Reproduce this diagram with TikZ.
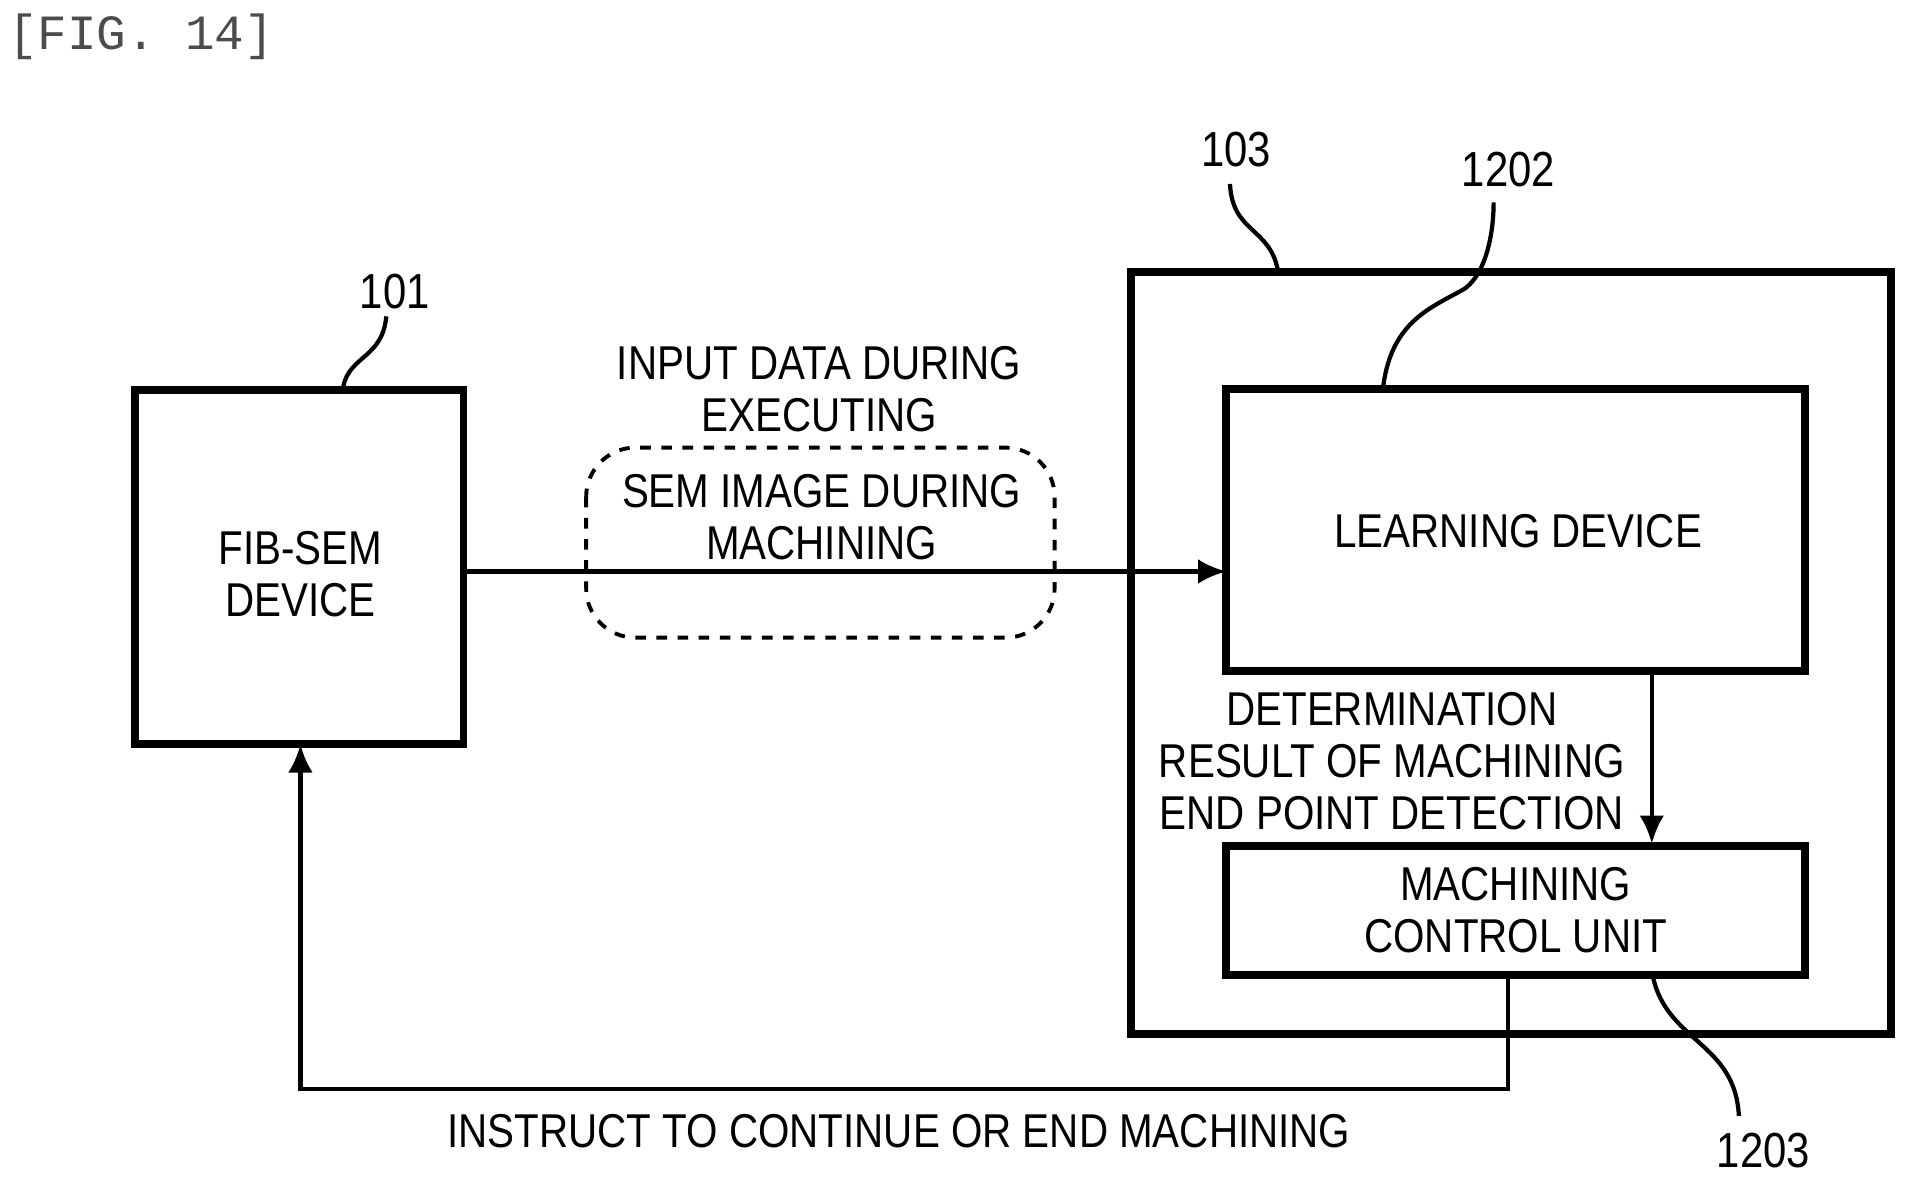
\documentclass[tikz,border=0pt]{standalone}
\usepackage{fontspec}
\setmainfont[FakeStretch=0.85]{Liberation Sans}
\setmonofont{Liberation Mono}
\usetikzlibrary{arrows.meta}
\begin{document}
\begin{tikzpicture}[x=0.01226cm,y=-0.01226cm,
  box/.style={draw,line width=2.2pt},
  lbl/.style={font=\fontsize{13.5}{14.8}\selectfont,align=center,inner sep=0},
  num/.style={font=\fontsize{14}{16}\selectfont,inner sep=0},
  line/.style={line width=1.2pt},
  arr/.style={line width=1.2pt,-{Latex[length=8pt,width=7pt]}}]
\useasboundingbox (0,0) rectangle (1560,965);
\node[font=\ttfamily\fontsize{14}{16}\selectfont,inner sep=0,gray!60!black] (fig) at (115,30) {[FIG. 14]};
\draw[box] (110,318) rectangle (378,607);
\coordinate (fibE) at (378,466); \coordinate (fibS) at (245,607);
\node[lbl] (fibt) at (245,468) {FIB-SEM\\DEVICE};
\node[num] (n101) at (322,238) {101};
\draw[line] (280,315) .. controls (285,290) and (312,292) .. (315,258);
\draw[line width=1.1pt,dashed,rounded corners=14pt] (478,365) rectangle (860,520);
\node[lbl] (sem) at (670,422) {SEM IMAGE DURING\\MACHINING};
\node[lbl] (inp) at (668,317) {INPUT DATA DURING\\EXECUTING};
\draw[box] (922,222) rectangle (1542,843);
\node[num] (n103) at (1008,122) {103};
\draw[line] (1042,220) .. controls (1035,185) and (1005,190) .. (1003,150);
\draw[box] (1000,317) rectangle (1472,547);
\coordinate (ldW) at (1000,466);
\node[lbl] (ld) at (1238,433) {LEARNING DEVICE};
\node[num] (n1202) at (1230,138) {1202};
\draw[line] (1128,315) .. controls (1135,260) and (1170,250) .. (1195,235) .. controls (1212,222) and (1218,190) .. (1218,165);
\draw[arr] (fibE) -- (ldW);
\draw[box] (1000,690) rectangle (1472,795);
\node[lbl] (mcu) at (1236,742) {MACHINING\\CONTROL UNIT};
\coordinate (ldS) at (1347,547); \coordinate (mcuN) at (1347,688);
\draw[arr] (ldS) -- (mcuN);
\node[lbl] (det) at (1135,621) {DETERMINATION\\RESULT OF MACHINING\\END POINT DETECTION};
\node[num] (n1203) at (1438,938) {1203};
\draw[line] (1348,797) .. controls (1360,850) and (1415,850) .. (1418,910);
\coordinate (mcuS) at (1230,795); \coordinate (c1) at (1230,888);\coordinate (c2) at (245,888);
\draw[arr] (mcuS) -- (c1) -- (c2) -- (fibS);
\node[lbl] (ins) at (733,922) {INSTRUCT TO CONTINUE OR END MACHINING};
\end{tikzpicture}
\end{document}
